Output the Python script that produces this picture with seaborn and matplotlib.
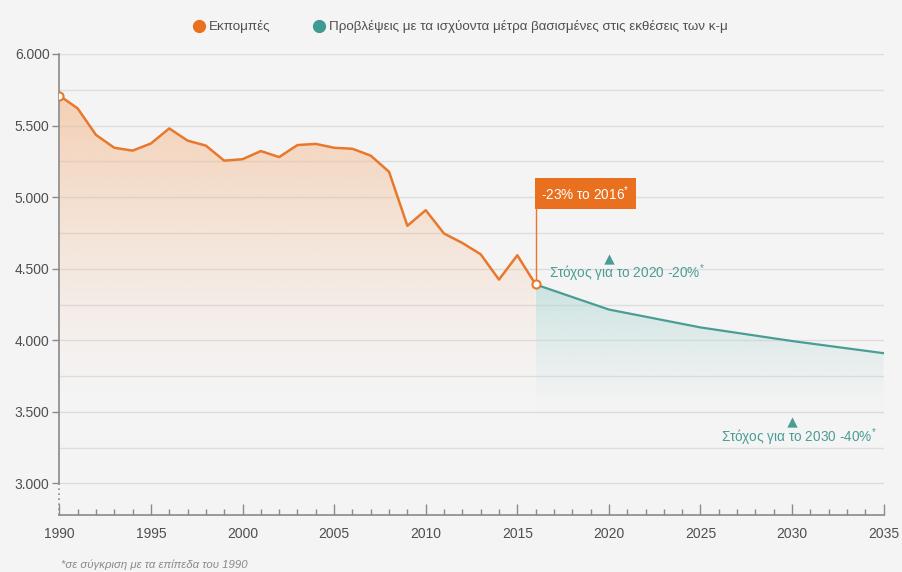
import numpy as np
import pandas as pd
import matplotlib
matplotlib.use("Agg")
import matplotlib.pyplot as plt
from matplotlib.lines import Line2D
from matplotlib.ticker import FuncFormatter, MultipleLocator
import seaborn as sns

# ---- data -------------------------------------------------------------
years_hist = list(range(1990, 2017))
emissions = [5710, 5620, 5435, 5345, 5325, 5375, 5480, 5395, 5360, 5255,
             5265, 5322, 5280, 5364, 5372, 5345, 5338, 5290, 5177, 4800,
             4909, 4746, 4680, 4601, 4424, 4594, 4390]

years_proj = [2016, 2020, 2025, 2030, 2035]
projection = [4390, 4215, 4090, 3995, 3910]

target_years = [2020, 2030]
target_values = [4568, 3426]
target_labels = ["Στόχος για το 2020 -20%$^{*}$", "Στόχος για το 2030 -40%$^{*}$"]

callout_text = "-23% το 2016$^{*}$"
legend_labels = ["Εκπομπές",
                 "Προβλέψεις με τα ισχύοντα μέτρα βασισμένες στις εκθέσεις των κ-μ"]
footnote = "*σε σύγκριση με τα επίπεδα του 1990"

y_ticks = [3000, 3500, 4000, 4500, 5000, 5500, 6000]
x_ticks = [1990, 1995, 2000, 2005, 2010, 2015, 2020, 2025, 2030, 2035]

# ---- style ------------------------------------------------------------
sns.set_theme(style="white")
FONT = ["Liberation Sans Narrow", "Liberation Sans", "DejaVu Sans"]
plt.rcParams["font.family"] = FONT
plt.rcParams["mathtext.default"] = "regular"

BG = "#f5f4f4"
ORANGE = "#e8782c"
ORANGE_BOX = "#e8701e"
TEAL = "#4a9d95"
GRID = "#dddddd"
AXIS = "#8a8a8a"
TEXT = "#4f4f4f"

fig = plt.figure(figsize=(9.03, 5.72), dpi=100, facecolor=BG)
ax = fig.add_axes([0.0657, 0.0997, 0.9129, 0.8059])
ax.set_facecolor("none")

YMIN, YMAX = 2780, 6000
XMIN, XMAX = 1990, 2035
ax.set_xlim(XMIN, XMAX)
ax.set_ylim(YMIN, YMAX)

# horizontal grid every 250
for g in np.arange(3000, 6001, 250):
    ax.axhline(g, color=GRID, lw=1.0, zorder=0)


def gradient_fill(x, y, rgb, a_top, v_top, v_fade, zorder):
    """Fill under a curve with a vertical alpha gradient."""
    coll = ax.fill_between(x, y, YMIN, color="none", lw=0)
    path = coll.get_paths()[0]
    n = 256
    vals = np.linspace(YMIN, YMAX, n)
    t = np.clip((vals - v_fade) / (v_top - v_fade), 0, 1)
    alpha = (t ** 1.3) * a_top
    img = np.zeros((n, 2, 4))
    img[..., :3] = matplotlib.colors.to_rgb(rgb)
    img[..., 3] = alpha[:, None]
    im = ax.imshow(img, extent=[min(x), max(x), YMIN, YMAX], origin="lower",
                   aspect="auto", zorder=zorder, interpolation="bilinear")
    im.set_clip_path(path, transform=ax.transData)


gradient_fill(years_hist, emissions, "#f3b98c", 0.60, 5700, 3600, 1)
gradient_fill(years_proj, projection, "#a9d6d1", 0.55, 4390, 3450, 1)

df_hist = pd.DataFrame({"year": years_hist, "value": emissions})
df_proj = pd.DataFrame({"year": years_proj, "value": projection})

sns.lineplot(data=df_proj, x="year", y="value", ax=ax, color=TEAL, lw=1.6,
             zorder=3, legend=False)
sns.lineplot(data=df_hist, x="year", y="value", ax=ax, color=ORANGE, lw=1.8,
             zorder=4, legend=False)

# open circles on the first and last measured year
ends = df_hist.iloc[[0, -1]]
ax.scatter(ends["year"], ends["value"], s=34, facecolor="white",
           edgecolor=ORANGE, linewidth=1.5, zorder=6)

# callout for 2016
last_year, last_val = years_hist[-1], emissions[-1]
box_val = 4920
ax.plot([last_year, last_year], [last_val, box_val], color=ORANGE, lw=1.0, zorder=5)
ax.text(last_year + 0.32, box_val + 42, callout_text, ha="left", va="bottom",
        color="white", fontsize=9.8, zorder=7,
        bbox=dict(boxstyle="square,pad=0.45", fc=ORANGE_BOX, ec="none"))

# targets
ax.scatter(target_years, target_values, marker="^", s=55, color=TEAL,
           zorder=6, linewidth=0)
ax.text(target_years[0] - 3.25, target_values[0] - 25, target_labels[0],
        ha="left", va="top", color=TEAL, fontsize=9.8, zorder=7)
ax.text(target_years[1] + 4.6, target_values[1] - 25, target_labels[1],
        ha="right", va="top", color=TEAL, fontsize=9.8, zorder=7)

# axes decoration
sns.despine(ax=ax, top=True, right=True)
ax.spines["left"].set_bounds(3000, YMAX)
ax.spines["left"].set_color(AXIS)
ax.spines["left"].set_linewidth(1.2)
ax.spines["bottom"].set_color(AXIS)
ax.spines["bottom"].set_linewidth(1.2)
ax.plot([XMIN, XMIN], [YMIN, 3000], color=AXIS, lw=1.2, ls=(0, (1, 2)),
        clip_on=False, zorder=2)

ax.set_yticks(y_ticks)
ax.yaxis.set_major_formatter(FuncFormatter(lambda v, p: f"{int(v):,}".replace(",", ".")))
ax.tick_params(axis="y", direction="out", length=5, width=1, color=AXIS,
               labelsize=10, labelcolor=TEXT, pad=2, left=True)
ax.set_xticks(x_ticks)
ax.xaxis.set_minor_locator(MultipleLocator(1))
ax.tick_params(axis="x", which="major", direction="in", length=8, width=1,
               color=AXIS, labelsize=10, labelcolor=TEXT, pad=9, bottom=True)
ax.tick_params(axis="x", which="minor", direction="in", length=4, width=1,
               color=AXIS, bottom=True)
ax.set_xlabel("")
ax.set_ylabel("")

# legend
handles = [Line2D([], [], ls="none", marker="o", ms=8.5, color="#e9711d"),
           Line2D([], [], ls="none", marker="o", ms=8.5, color="#3f9a92")]
fig.legend(handles, legend_labels, loc="center left", ncol=2, frameon=False,
           bbox_to_anchor=(0.2, 0.953), fontsize=9.6, labelcolor=TEXT,
           handletextpad=0.25, columnspacing=3.1, handlelength=1.0)

fig.text(0.067, 0.004, footnote, fontsize=8.2, color="#8a8a8a",
         style="italic", ha="left", va="bottom")

fig.savefig("out.png", dpi=100, facecolor=BG)
